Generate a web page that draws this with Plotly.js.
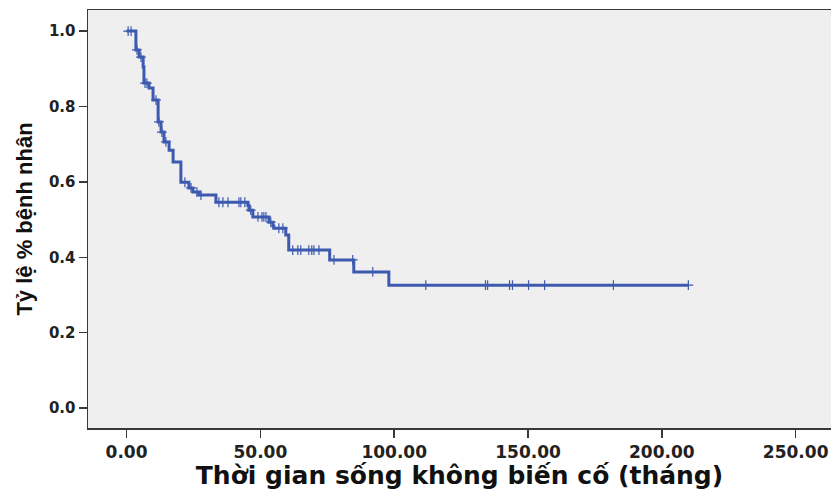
<!DOCTYPE html>
<html>
<head>
<meta charset="utf-8">
<script src="https://cdn.plot.ly/plotly-3.0.1.min.js"></script>
<style>html,body{margin:0;padding:0;background:#fff;}#chart{width:831px;height:490px;}</style>
</head>
<body>
<div id="chart"></div>
<script>
// Event (step) times in months and survival after each step
const stepTimes = [3.5, 4.7, 6.2, 6.5, 8.4, 9.9, 11.8, 12.9, 14.0, 15.9, 17.4, 20.3, 23.3, 24.8, 27.1, 33.4, 45.3, 45.7, 47.2, 53.2, 54.7, 55.0, 59.5, 60.6, 75.9, 84.9, 98.0];
const stepSurv  = [0.950, 0.931, 0.905, 0.862, 0.849, 0.817, 0.759, 0.732, 0.706, 0.684, 0.653, 0.599, 0.584, 0.573, 0.565, 0.546, 0.538, 0.525, 0.507, 0.493, 0.483, 0.477, 0.459, 0.419, 0.393, 0.361, 0.326];
// Censored times
const censorTimes = [0.6, 1.7, 3.9, 5.4, 6.9, 7.6, 11.0, 12.1, 13.2, 14.7, 21.8, 24.1, 26.3, 27.8, 34.5, 36.0, 37.9, 42.0, 42.7, 44.2, 46.4, 49.1, 50.6, 51.3, 52.1, 53.9, 56.9, 58.4, 62.1, 64.0, 65.1, 68.1, 69.2, 70.0, 71.9, 77.5, 84.5, 92.0, 111.8, 134.1, 134.9, 143.1, 144.2, 150.2, 156.2, 181.9, 209.9];
const xTickVals = [0, 50, 100, 150, 200, 250];
const xTickText = ['0.00', '50.00', '100.00', '150.00', '200.00', '250.00'];
const yTickVals = [0, 0.2, 0.4, 0.6, 0.8, 1.0];
const yTickText = ['0.0', '0.2', '0.4', '0.6', '0.8', '1.0'];
const xTitle = 'Thời gian sống không biến cố (tháng)';
const yTitle = 'Tỷ lệ % bệnh nhân';

function survAt(t) {
  let s = 1.0;
  for (let i = 0; i < stepTimes.length; i++) { if (stepTimes[i] <= t) s = stepSurv[i]; }
  return s;
}
const lastT = censorTimes[censorTimes.length - 1];
const lx = [0].concat(stepTimes, [lastT]);
const ly = [1.0].concat(stepSurv, [stepSurv[stepSurv.length - 1]]);
const col = '#3d5ab0';

const traces = [
  {x: lx, y: ly, type: 'scatter', mode: 'lines', line: {shape: 'hv', color: col, width: 3}, hoverinfo: 'skip', showlegend: false},
  {x: censorTimes, y: censorTimes.map(survAt), type: 'scatter', mode: 'markers',
   marker: {symbol: 'cross-thin', size: 7, line: {color: col, width: 1.2}, color: col}, showlegend: false}
];

const layout = {
  width: 831, height: 490,
  margin: {l: 88, r: 0, t: 10, b: 62},
  paper_bgcolor: '#ffffff', plot_bgcolor: '#efefef',
  showlegend: false,
  xaxis: {
    range: [-14.4, 263.2], tickvals: xTickVals, ticktext: xTickText,
    showgrid: false, zeroline: false, showline: true, mirror: true, linecolor: '#3a3a3a', linewidth: 1.5,
    ticks: 'outside', ticklen: 8, tickwidth: 1.5, tickcolor: '#3a3a3a',
    tickfont: {family: 'DejaVu Sans', size: 17, color: '#222', weight: 'bold'},
    title: {text: xTitle, font: {family: 'DejaVu Sans', size: 25, color: '#111', weight: 'bold'}, standoff: 11}
  },
  yaxis: {
    range: [-0.053, 1.056], tickvals: yTickVals, ticktext: yTickText,
    showgrid: false, zeroline: false, showline: true, mirror: false, linecolor: '#3a3a3a', linewidth: 1.5,
    ticks: 'outside', ticklen: 8, tickwidth: 1.5, tickcolor: '#3a3a3a',
    tickfont: {family: 'DejaVu Sans', size: 15, color: '#222', weight: 'bold'},
    title: {text: yTitle, font: {family: 'Liberation Sans', size: 22, color: '#111', weight: 'bold'}, standoff: 10}
  }
};
Plotly.newPlot('chart', traces, layout, {displayModeBar: false, staticPlot: true});
</script>
</body>
</html>
